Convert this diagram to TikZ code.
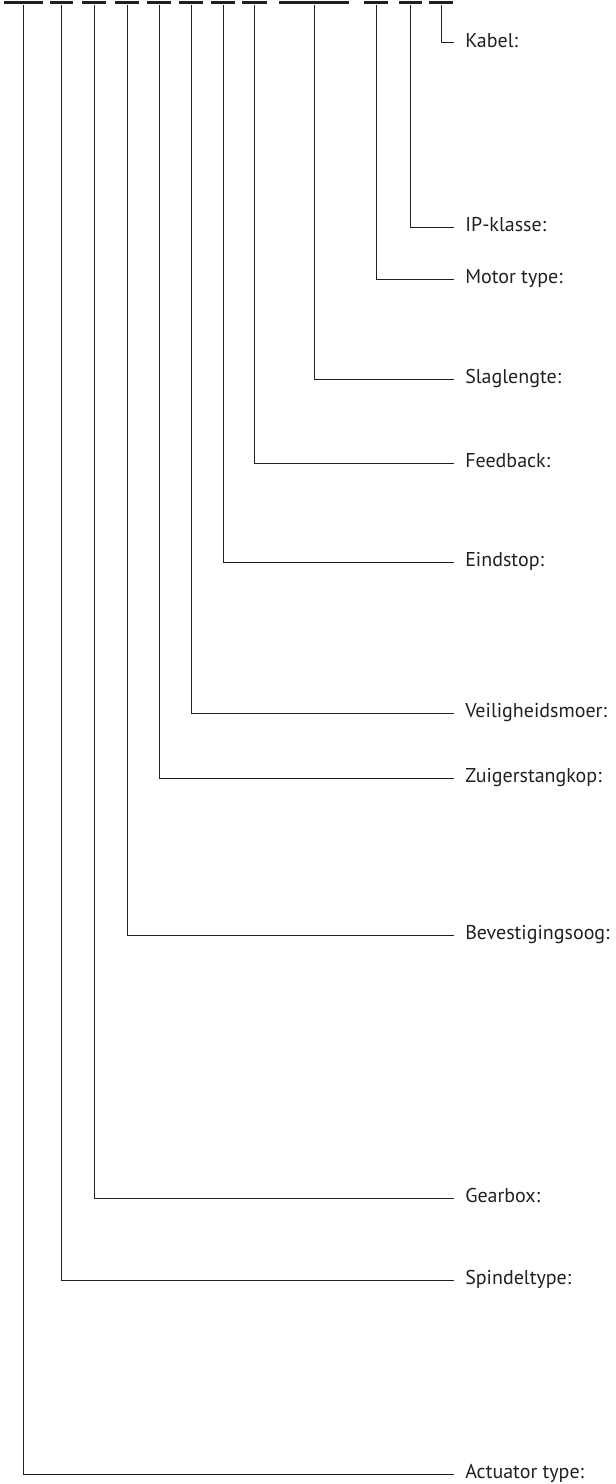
\documentclass[tikz,border=0pt]{standalone}
\usepackage{fontspec}
\setmainfont{PT Sans}
\definecolor{inkt}{HTML}{231F20}
\begin{document}
\begin{tikzpicture}[x=0.75pt,y=-0.75pt,
    balk/.style={fill=inkt, draw=none, anchor=north, minimum height=2.8pt, inner sep=0pt},
    lbl/.style={anchor=west, inner xsep=8.25pt, inner ysep=0pt, text height=0.7em, text depth=0pt,
      text=inkt, font=\fontsize{15}{18}\selectfont},
    lijn/.style={draw=inkt, line width=0.75pt}]
    \useasboundingbox (0,0) rectangle (616,1484);

    % Balken bovenaan
    \foreach \n/\x/\w in {1/23.5/39, 2/61.5/23, 3/94/24, 4/127/24, 5/159/24, 6/191/24,
                          7/223/24, 8/254.5/25, 9/314/70, 10/376/24, 11/410.5/23, 12/441/24}
      \node[balk, minimum width=\w*0.75pt] (b\n) at (\x,0.3) {};

    % Labels en lijnen
    \foreach \n/\y/\t in {1/1474/Actuator type:, 2/1280/Spindeltype:, 3/1198/Gearbox:,
                          4/935/Bevestigingsoog:, 5/778/Zuigerstangkop:, 6/713/Veiligheidsmoer:,
                          7/562/Eindstop:, 8/463/Feedback:, 9/379/Slaglengte:,
                          10/279/Motor type:, 11/227/IP-klasse:, 12/43/Kabel:}
    {
      \node[lbl] (l\n) at (454,\y) {\t};
      \draw[lijn] (b\n.south) |- (l\n.west);
    }
\end{tikzpicture}
\end{document}
